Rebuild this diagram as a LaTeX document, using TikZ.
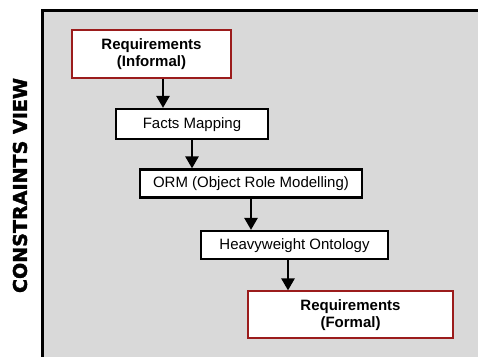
\documentclass[tikz,border=0pt]{standalone}
\usepackage{fontspec}
\usepackage{graphicx}
\setmainfont{Liberation Sans}
\newfontfamily\viewfont[BoldFeatures={FakeBold=2}]{DejaVu Sans}
\usetikzlibrary{positioning,arrows.meta}
\definecolor{framegray}{HTML}{D9D9D9}
\definecolor{reqred}{HTML}{9B1C1C}

\begin{document}
\begin{tikzpicture}[
x=1pt, y=-1pt,
stage/.style={rectangle, draw=black, line width=2.5pt, fill=white, inner sep=0pt, align=center, font=\fontsize{15}{17}\selectfont},
req/.style={stage, draw=reqred, line width=1.8pt, font=\fontsize{15}{17}\selectfont\bfseries},
arrow/.style={-{Triangle[width=13pt,length=12pt]}, line width=2.5pt},
]

\clip (0,0) rectangle (478,356);
\draw[fill=framegray, line width=3pt] (42,10) rectangle (500,380);

\node[rotate=90] (nview) at (20,185.5) {\resizebox{215pt}{14pt}{\viewfont\bfseries CONSTRAINTS VIEW}};

\node[req, minimum width=159pt, minimum height=48pt] (ninf) at (151.5,54) {Requirements\\(Informal)};
\node[stage, minimum width=152pt, minimum height=30pt] (nfacts) [below=29pt of ninf, xshift=40.5pt] {Facts Mapping};
\node[stage, minimum width=222pt, minimum height=28pt] (norm) [below=28pt of nfacts, xshift=59pt] {ORM (Object Role Modelling)};
\node[stage, minimum width=187pt, minimum height=28pt] (nheavy) [below=31pt of norm, xshift=43.5pt] {Heavyweight Ontology};
\node[req, minimum width=205pt, minimum height=47pt] (nform) [below=30pt of nheavy, xshift=56pt] {Requirements\\(Formal)};

\draw[arrow] ([xshift=11.5pt]ninf.south) -- ([xshift=11.5pt]ninf.south |- nfacts.north);
\draw[arrow] (nfacts.south) -- (nfacts.south |- norm.north);
\draw[arrow] (norm.south) -- (norm.south |- nheavy.north);
\draw[arrow] ([xshift=-6.5pt]nheavy.south) -- ([xshift=-6.5pt]nheavy.south |- nform.north);

\end{tikzpicture}
\end{document}
